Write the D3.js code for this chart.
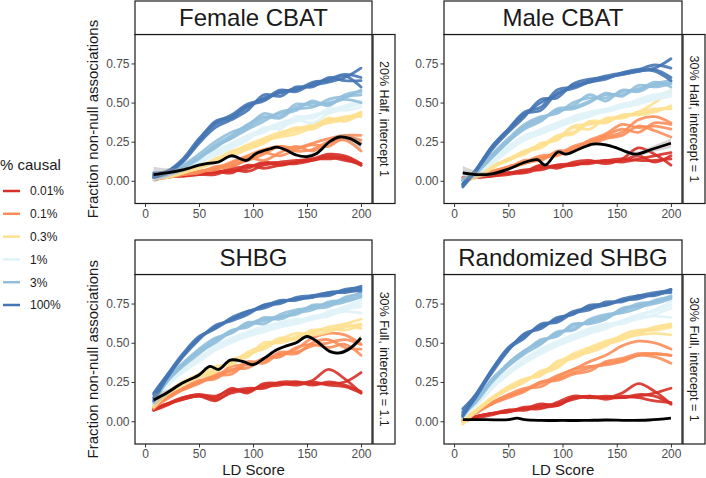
<!DOCTYPE html>
<html lang="en">
<head>
    <title>Fraction non-null associations</title>
    <script src="https://d3js.org/d3.v7.min.js" charset="utf-8"></script>
    <style>
        body { margin: 0; background: #fff; }
        text { font-family: "Liberation Sans", Arial, Helvetica, sans-serif; }
    </style>
</head>
<body>
<script>

    // ---- data ----
    var ldScore = [8, 20, 35, 50, 65, 80, 95, 110, 125, 140, 155, 170, 185, 200];
    var causal = ["0.01%", "0.1%", "0.3%", "1%", "3%", "100%"];
    var colours = ["#d73027", "#fc8d59", "#fee090", "#e0f3f8", "#91bfdb", "#4575b4"];
    var panelTitles = ["Female CBAT", "Male CBAT", "SHBG", "Randomized SHBG"];
    var stripLabels = ["20% Half, intercept 1", "30% Half, intercept = 1", "30% Full, intercept = 1.1", "30% Full, intercept = 1"];
    var xTicks = [0, 50, 100, 150, 200];
    var yTicks = [0, 0.25, 0.5, 0.75];

    // simulated replicates per % causal (4 each), values at ldScore
    var femaleCBAT = [
        [[0.02,0.03,0.04,0.05,0.05,0.08,0.09,0.11,0.12,0.13,0.14,0.17,0.16,0.11],
         [0.02,0.03,0.03,0.04,0.06,0.05,0.10,0.08,0.10,0.12,0.13,0.16,0.14,0.10],
         [0.01,0.02,0.04,0.04,0.04,0.07,0.06,0.10,0.11,0.11,0.13,0.15,0.13,0.11],
         [0.02,0.03,0.03,0.05,0.06,0.06,0.08,0.12,0.10,0.12,0.14,0.14,0.15,0.10]],
        [[0.02,0.03,0.04,0.06,0.08,0.12,0.16,0.20,0.22,0.21,0.24,0.27,0.29,0.29],
         [0.02,0.03,0.04,0.05,0.09,0.10,0.13,0.17,0.22,0.19,0.20,0.25,0.27,0.24],
         [0.01,0.02,0.04,0.06,0.07,0.11,0.15,0.13,0.18,0.22,0.19,0.24,0.26,0.19],
         [0.02,0.03,0.05,0.06,0.08,0.09,0.14,0.18,0.16,0.20,0.23,0.22,0.28,0.26]],
        [[0.01,0.03,0.06,0.09,0.14,0.18,0.23,0.27,0.31,0.33,0.36,0.39,0.40,0.44],
         [0.02,0.03,0.05,0.08,0.12,0.17,0.21,0.25,0.29,0.32,0.35,0.37,0.39,0.42],
         [0.01,0.02,0.05,0.09,0.13,0.19,0.22,0.26,0.28,0.30,0.34,0.40,0.38,0.43],
         [0.02,0.03,0.06,0.08,0.12,0.16,0.20,0.24,0.30,0.34,0.33,0.38,0.41,0.41]],
        [[0.02,0.04,0.08,0.13,0.19,0.24,0.29,0.33,0.37,0.40,0.42,0.45,0.48,0.51],
         [0.03,0.04,0.07,0.12,0.17,0.22,0.27,0.32,0.35,0.38,0.41,0.44,0.47,0.49],
         [0.01,0.03,0.07,0.11,0.18,0.23,0.28,0.31,0.36,0.39,0.37,0.43,0.46,0.50],
         [0.02,0.04,0.08,0.12,0.16,0.21,0.26,0.34,0.33,0.41,0.40,0.46,0.45,0.47]],
        [[0.03,0.05,0.09,0.15,0.23,0.29,0.36,0.41,0.40,0.47,0.50,0.49,0.53,0.58],
         [0.02,0.04,0.08,0.14,0.22,0.27,0.33,0.38,0.44,0.46,0.47,0.52,0.54,0.55],
         [0.04,0.05,0.10,0.17,0.25,0.31,0.35,0.43,0.41,0.49,0.48,0.50,0.52,0.50],
         [0.03,0.05,0.09,0.15,0.21,0.28,0.34,0.40,0.43,0.45,0.51,0.48,0.55,0.57]],
        [[0.02,0.05,0.13,0.25,0.36,0.40,0.47,0.53,0.56,0.59,0.61,0.63,0.66,0.72],
         [0.04,0.06,0.14,0.27,0.37,0.42,0.49,0.52,0.58,0.57,0.62,0.65,0.68,0.66],
         [0.03,0.05,0.12,0.24,0.34,0.39,0.45,0.55,0.54,0.60,0.60,0.66,0.64,0.64],
         [0.05,0.06,0.13,0.26,0.38,0.41,0.48,0.51,0.57,0.58,0.63,0.64,0.67,0.60]]
    ];

    var maleCBAT = [
        [[0.01,0.02,0.03,0.05,0.06,0.10,0.08,0.12,0.13,0.11,0.14,0.21,0.17,0.10],
         [0.02,0.02,0.04,0.05,0.07,0.07,0.10,0.11,0.11,0.13,0.12,0.14,0.16,0.18],
         [0.01,0.02,0.03,0.04,0.06,0.09,0.09,0.10,0.12,0.12,0.13,0.16,0.12,0.16],
         [0.01,0.03,0.04,0.05,0.05,0.08,0.10,0.10,0.12,0.13,0.14,0.13,0.13,0.14]],
        [[0.01,0.03,0.06,0.09,0.12,0.16,0.17,0.22,0.25,0.28,0.31,0.39,0.41,0.37],
         [0.01,0.02,0.05,0.08,0.11,0.14,0.18,0.20,0.26,0.30,0.36,0.34,0.35,0.33],
         [0.00,0.02,0.06,0.09,0.12,0.15,0.16,0.21,0.23,0.27,0.29,0.35,0.32,0.28],
         [0.01,0.03,0.05,0.08,0.13,0.13,0.19,0.19,0.24,0.29,0.33,0.31,0.37,0.36]],
        [[0.00,0.03,0.09,0.14,0.19,0.23,0.27,0.35,0.36,0.39,0.41,0.44,0.50,0.58],
         [0.01,0.03,0.10,0.13,0.18,0.22,0.29,0.31,0.38,0.38,0.42,0.43,0.45,0.47],
         [0.00,0.02,0.08,0.14,0.17,0.24,0.26,0.34,0.33,0.40,0.40,0.44,0.46,0.46],
         [0.01,0.03,0.09,0.13,0.19,0.21,0.28,0.30,0.37,0.37,0.42,0.42,0.44,0.48]],
        [[0.01,0.05,0.13,0.22,0.28,0.33,0.37,0.41,0.44,0.46,0.49,0.51,0.54,0.58],
         [0.00,0.04,0.12,0.20,0.27,0.31,0.35,0.39,0.42,0.45,0.48,0.50,0.53,0.56],
         [0.01,0.05,0.13,0.21,0.29,0.32,0.36,0.40,0.43,0.44,0.47,0.52,0.55,0.55],
         [0.00,0.04,0.11,0.19,0.26,0.30,0.34,0.38,0.41,0.45,0.47,0.49,0.52,0.54]],
        [[0.00,0.06,0.16,0.26,0.35,0.40,0.44,0.48,0.55,0.51,0.58,0.57,0.62,0.64],
         [0.01,0.05,0.15,0.25,0.34,0.39,0.45,0.46,0.50,0.56,0.54,0.61,0.60,0.62],
         [0.00,0.06,0.17,0.27,0.36,0.41,0.43,0.50,0.53,0.53,0.57,0.58,0.63,0.60],
         [0.01,0.05,0.15,0.25,0.33,0.38,0.46,0.47,0.51,0.55,0.55,0.59,0.61,0.63]],
        [[-0.04,0.06,0.21,0.32,0.42,0.50,0.55,0.61,0.63,0.66,0.68,0.70,0.72,0.78],
         [-0.02,0.07,0.22,0.33,0.44,0.47,0.58,0.60,0.64,0.67,0.69,0.71,0.74,0.72],
         [-0.03,0.06,0.20,0.31,0.41,0.52,0.53,0.62,0.65,0.66,0.68,0.70,0.71,0.66],
         [-0.02,0.07,0.22,0.33,0.43,0.45,0.56,0.59,0.63,0.65,0.69,0.71,0.70,0.64]]
    ];

    var shbg = [
        [[0.07,0.11,0.15,0.17,0.16,0.20,0.19,0.23,0.24,0.24,0.26,0.33,0.27,0.18],
         [0.08,0.11,0.14,0.16,0.13,0.19,0.21,0.21,0.25,0.25,0.24,0.24,0.25,0.31],
         [0.07,0.10,0.15,0.17,0.15,0.21,0.18,0.24,0.24,0.23,0.25,0.23,0.22,0.18],
         [0.08,0.11,0.14,0.16,0.14,0.18,0.20,0.22,0.23,0.25,0.23,0.25,0.23,0.19]],
        [[0.08,0.15,0.21,0.25,0.28,0.35,0.36,0.40,0.42,0.46,0.53,0.56,0.55,0.49],
         [0.09,0.14,0.20,0.24,0.29,0.30,0.37,0.38,0.44,0.44,0.48,0.50,0.52,0.49],
         [0.10,0.16,0.21,0.26,0.27,0.33,0.34,0.40,0.41,0.47,0.49,0.47,0.49,0.42],
         [0.09,0.15,0.20,0.25,0.30,0.32,0.38,0.37,0.43,0.43,0.50,0.52,0.47,0.46]],
        [[0.10,0.18,0.24,0.29,0.33,0.37,0.44,0.48,0.51,0.54,0.57,0.60,0.62,0.65],
         [0.09,0.17,0.23,0.28,0.32,0.38,0.41,0.50,0.50,0.53,0.58,0.58,0.60,0.62],
         [0.11,0.18,0.25,0.30,0.35,0.36,0.43,0.46,0.52,0.56,0.55,0.57,0.61,0.59],
         [0.10,0.17,0.24,0.28,0.31,0.39,0.42,0.47,0.53,0.52,0.56,0.59,0.58,0.61]],
        [[0.12,0.24,0.33,0.41,0.47,0.52,0.56,0.59,0.62,0.64,0.66,0.69,0.73,0.77],
         [0.11,0.23,0.32,0.39,0.46,0.51,0.55,0.58,0.61,0.63,0.67,0.68,0.70,0.69],
         [0.13,0.24,0.34,0.40,0.48,0.53,0.57,0.60,0.63,0.65,0.65,0.70,0.72,0.75],
         [0.12,0.22,0.31,0.38,0.45,0.50,0.54,0.57,0.60,0.62,0.65,0.67,0.71,0.73]],
        [[0.14,0.26,0.36,0.45,0.52,0.57,0.61,0.64,0.66,0.70,0.73,0.75,0.78,0.82],
         [0.12,0.25,0.35,0.43,0.51,0.58,0.60,0.66,0.65,0.69,0.71,0.76,0.77,0.80],
         [0.15,0.27,0.37,0.46,0.53,0.56,0.63,0.62,0.68,0.71,0.72,0.73,0.79,0.81],
         [0.13,0.25,0.36,0.44,0.50,0.57,0.62,0.65,0.67,0.68,0.74,0.74,0.76,0.79]],
        [[0.15,0.28,0.42,0.53,0.60,0.65,0.69,0.74,0.76,0.78,0.79,0.81,0.83,0.86],
         [0.17,0.29,0.43,0.54,0.59,0.66,0.70,0.73,0.77,0.77,0.80,0.82,0.82,0.84],
         [0.13,0.27,0.41,0.52,0.61,0.64,0.68,0.74,0.75,0.79,0.80,0.80,0.84,0.85],
         [0.18,0.29,0.42,0.53,0.59,0.65,0.70,0.72,0.76,0.78,0.79,0.82,0.83,0.83]]
    ];

    var randomizedSHBG = [
        [[0.01,0.03,0.05,0.07,0.08,0.11,0.10,0.15,0.16,0.15,0.18,0.24,0.19,0.11],
         [0.01,0.03,0.05,0.06,0.08,0.08,0.12,0.16,0.15,0.15,0.15,0.16,0.18,0.21],
         [0.00,0.02,0.04,0.07,0.07,0.10,0.11,0.14,0.16,0.14,0.16,0.15,0.13,0.12],
         [0.01,0.03,0.05,0.06,0.09,0.09,0.10,0.15,0.15,0.16,0.15,0.17,0.16,0.11]],
        [[0.01,0.06,0.12,0.16,0.20,0.24,0.29,0.33,0.38,0.42,0.48,0.51,0.50,0.46],
         [0.00,0.05,0.11,0.15,0.19,0.25,0.27,0.31,0.34,0.37,0.39,0.42,0.43,0.42],
         [0.01,0.06,0.12,0.17,0.21,0.22,0.28,0.33,0.35,0.36,0.38,0.42,0.41,0.37],
         [0.02,0.06,0.11,0.16,0.20,0.25,0.26,0.30,0.32,0.38,0.40,0.43,0.43,0.42]],
        [[0.00,0.07,0.15,0.21,0.26,0.31,0.37,0.43,0.47,0.51,0.54,0.57,0.60,0.62],
         [-0.02,0.06,0.14,0.20,0.25,0.32,0.35,0.41,0.46,0.49,0.52,0.56,0.59,0.61],
         [0.01,0.07,0.15,0.22,0.27,0.29,0.38,0.40,0.45,0.50,0.53,0.55,0.56,0.55],
         [0.00,0.06,0.14,0.21,0.26,0.30,0.34,0.42,0.44,0.48,0.55,0.58,0.58,0.60]],
        [[0.03,0.11,0.22,0.31,0.39,0.45,0.50,0.54,0.58,0.61,0.64,0.67,0.71,0.76],
         [0.04,0.10,0.21,0.30,0.38,0.44,0.49,0.53,0.57,0.60,0.63,0.65,0.68,0.72],
         [0.02,0.11,0.23,0.32,0.40,0.46,0.51,0.55,0.59,0.62,0.62,0.66,0.67,0.66],
         [0.03,0.10,0.21,0.30,0.37,0.43,0.48,0.52,0.56,0.59,0.64,0.68,0.70,0.74]],
        [[0.04,0.13,0.26,0.37,0.45,0.51,0.55,0.61,0.63,0.66,0.70,0.74,0.76,0.80],
         [0.05,0.12,0.25,0.35,0.43,0.49,0.57,0.58,0.65,0.68,0.69,0.72,0.77,0.79],
         [0.03,0.13,0.27,0.36,0.44,0.52,0.54,0.62,0.62,0.65,0.72,0.73,0.75,0.78],
         [0.05,0.14,0.26,0.37,0.45,0.50,0.56,0.59,0.64,0.67,0.71,0.75,0.76,0.79]],
        [[0.04,0.15,0.32,0.46,0.55,0.60,0.65,0.69,0.73,0.75,0.77,0.79,0.81,0.84],
         [0.06,0.17,0.33,0.47,0.54,0.61,0.64,0.70,0.72,0.74,0.78,0.80,0.82,0.83],
         [0.03,0.16,0.31,0.45,0.56,0.59,0.66,0.68,0.74,0.74,0.77,0.78,0.81,0.82],
         [0.08,0.17,0.33,0.46,0.53,0.62,0.63,0.69,0.71,0.76,0.76,0.80,0.80,0.84]]
    ];

    // observed trait (black line) with standard error band
    var femaleObsX = [8, 20, 35, 50, 57, 68, 80, 94, 103, 116, 122, 131, 140, 150, 159, 171, 180, 190, 200];
    var femaleObs  = [0.04, 0.05, 0.07, 0.10, 0.11, 0.12, 0.16, 0.13, 0.175, 0.205, 0.215, 0.195, 0.165, 0.155, 0.175, 0.25, 0.28, 0.27, 0.23];
    var femaleSE   = [0.05, 0.03, 0.015, 0.012, 0.01, 0.01, 0.01, 0.01, 0.01, 0.01, 0.01, 0.01, 0.01, 0.01, 0.012, 0.012, 0.015, 0.02, 0.03];

    var maleObsX = [8, 20, 35, 50, 66, 77, 84, 96, 103, 116, 128, 140, 150, 159, 168, 184, 200];
    var maleObs  = [0.05, 0.04, 0.045, 0.075, 0.12, 0.135, 0.10, 0.185, 0.17, 0.205, 0.235, 0.23, 0.21, 0.185, 0.17, 0.205, 0.24];
    var maleSE   = [0.045, 0.025, 0.012, 0.01, 0.01, 0.01, 0.01, 0.01, 0.01, 0.01, 0.01, 0.01, 0.01, 0.012, 0.015, 0.02, 0.03];

    var shbgObsX = [8, 20, 35, 50, 60, 68, 79, 91, 100, 110, 122, 131, 140, 150, 159, 171, 180, 190, 200];
    var shbgObs  = [0.135, 0.18, 0.245, 0.295, 0.35, 0.33, 0.39, 0.38, 0.36, 0.40, 0.455, 0.48, 0.50, 0.54, 0.51, 0.445, 0.435, 0.465, 0.53];
    var shbgSE   = [0.04, 0.02, 0.01, 0.01, 0.01, 0.01, 0.01, 0.01, 0.01, 0.01, 0.01, 0.01, 0.01, 0.01, 0.01, 0.012, 0.012, 0.015, 0.02];

    var randObsX = [8, 30, 50, 58, 65, 80, 100, 120, 140, 160, 180, 200];
    var randObs  = [0.01, 0.01, 0.01, 0.02, 0.01, 0.005, 0.005, 0.005, 0.008, 0.005, 0.008, 0.02];
    var randSE   = [0.006, 0.003, 0.003, 0.003, 0.003, 0.003, 0.003, 0.003, 0.003, 0.003, 0.003, 0.005];

    var sims = [femaleCBAT, maleCBAT, shbg, randomizedSHBG];
    var obsX = [femaleObsX, maleObsX, shbgObsX, randObsX];
    var obsY = [femaleObs, maleObs, shbgObs, randObs];
    var obsSE = [femaleSE, maleSE, shbgSE, randSE];

    // ---- layout ----
    var w = 706, h = 478;
    var panels = [
        {x0: 135, x1: 372, y0: 34.5, y1: 203.5, sTop: 1},
        {x0: 444, x1: 682, y0: 34.5, y1: 203.5, sTop: 1},
        {x0: 135, x1: 372, y0: 274.5, y1: 444, sTop: 240},
        {x0: 444, x1: 682, y0: 274.5, y1: 444, sTop: 240}
    ];

    var svg = d3.select("body").append("svg")
        .attr("width", w)
        .attr("height", h);

    panels.forEach(function(p, i){
        var g = svg.append("g");

        var x = d3.scaleLinear().domain([-9.3, 210.2]).range([p.x0, p.x1]);
        var y = d3.scaleLinear().domain([-0.145, 0.935]).range([p.y1, p.y0]);

        g.append("clipPath").attr("id", "clip" + i)
            .append("rect")
            .attr("x", p.x0).attr("y", p.y0)
            .attr("width", p.x1 - p.x0).attr("height", p.y1 - p.y0);

        var plot = g.append("g").attr("clip-path", "url(#clip" + i + ")");

        var line = d3.line()
            .x(function(d){ return x(d[0]); })
            .y(function(d){ return y(d[1]); })
            .curve(d3.curveCatmullRom.alpha(0.5));

        // replicate lines per % causal
        sims[i].forEach(function(reps, c){
            reps.forEach(function(vals){
                plot.append("path")
                    .datum(ldScore.map(function(v, k){ return [v, vals[k]]; }))
                    .attr("d", line)
                    .attr("fill", "none")
                    .attr("stroke", colours[c])
                    .attr("stroke-width", 2.8)
                    .attr("stroke-opacity", 0.9)
                    .attr("stroke-linejoin", "round")
                    .attr("stroke-linecap", "round");
            });
        });

        // observed trait with ribbon
        var obs = obsX[i].map(function(v, k){ return [v, obsY[i][k], obsSE[i][k]]; });
        var area = d3.area()
            .x(function(d){ return x(d[0]); })
            .y0(function(d){ return y(d[1] - d[2]); })
            .y1(function(d){ return y(d[1] + d[2]); })
            .curve(d3.curveCatmullRom.alpha(0.5));
        plot.append("path").datum(obs)
            .attr("d", area)
            .attr("fill", "#999999")
            .attr("fill-opacity", 0.4);
        plot.append("path").datum(obs)
            .attr("d", line)
            .attr("fill", "none")
            .attr("stroke", "#000")
            .attr("stroke-width", 2.8);

        // panel border
        g.append("rect")
            .attr("x", p.x0).attr("y", p.y0)
            .attr("width", p.x1 - p.x0).attr("height", p.y1 - p.y0)
            .attr("fill", "none").attr("stroke", "#1a1a1a").attr("stroke-width", 1.2);

        // top strip
        g.append("rect")
            .attr("x", p.x0).attr("y", p.sTop)
            .attr("width", p.x1 - p.x0).attr("height", p.y0 - p.sTop)
            .attr("fill", "#fff").attr("stroke", "#1a1a1a").attr("stroke-width", 1.2);
        g.append("text")
            .attr("x", (p.x0 + p.x1) / 2).attr("y", (p.sTop + p.y0) / 2 + 8.5)
            .attr("text-anchor", "middle")
            .attr("font-size", 24)
            .attr("fill", "#1a1a1a")
            .text(panelTitles[i]);

        // right strip
        g.append("rect")
            .attr("x", p.x1 + 1).attr("y", p.y0)
            .attr("width", 22).attr("height", p.y1 - p.y0)
            .attr("fill", "#fff").attr("stroke", "#1a1a1a").attr("stroke-width", 1.2);
        var cx = p.x1 + 12, cy = (p.y0 + p.y1) / 2;
        g.append("text")
            .attr("transform", "translate(" + (cx - 4.5) + "," + cy + ") rotate(90)")
            .attr("text-anchor", "middle")
            .attr("font-size", 12.5)
            .attr("fill", "#1a1a1a")
            .text(stripLabels[i]);

        // axes
        var xa = g.append("g")
            .attr("transform", "translate(0," + p.y1 + ")")
            .call(d3.axisBottom(x).tickValues(xTicks).tickSize(3.5).tickPadding(2));
        var ya = g.append("g")
            .attr("transform", "translate(" + p.x0 + ",0)")
            .call(d3.axisLeft(y).tickValues(yTicks).tickFormat(d3.format(".2f")).tickSize(3.5).tickPadding(2));
        [xa, ya].forEach(function(a){
            a.select(".domain").remove();
            a.selectAll(".tick line").attr("stroke", "#333");
            a.selectAll(".tick text")
                .attr("font-size", 12)
                .attr("fill", "#4d4d4d")
                .attr("font-family", "'Liberation Sans', Arial, Helvetica, sans-serif");
        });

        // axis titles
        if (i % 2 === 0) {
            g.append("text")
                .attr("transform", "translate(98," + (p.y0 + p.y1) / 2 + ") rotate(-90)")
                .attr("text-anchor", "middle")
                .attr("font-size", 15)
                .attr("fill", "#1a1a1a")
                .text("Fraction non-null associations");
        }
        if (i >= 2) {
            g.append("text")
                .attr("x", (p.x0 + p.x1) / 2).attr("y", 475)
                .attr("text-anchor", "middle")
                .attr("font-size", 15)
                .attr("fill", "#1a1a1a")
                .text("LD Score");
        }
    });

    // legend
    var legend = svg.append("g");
    legend.append("text")
        .attr("x", 0).attr("y", 170)
        .attr("font-size", 15)
        .attr("fill", "#1a1a1a")
        .text("% causal");

    var ly = d3.scalePoint().domain(causal).range([191, 305]);
    causal.forEach(function(c, k){
        legend.append("line")
            .attr("x1", 3).attr("x2", 20)
            .attr("y1", ly(c)).attr("y2", ly(c))
            .attr("stroke", colours[k])
            .attr("stroke-width", 2.5);
        legend.append("text")
            .attr("x", 30).attr("y", ly(c) + 4.3)
            .attr("font-size", 12)
            .attr("fill", "#1a1a1a")
            .text(c);
    });

</script>
</body>
</html>
